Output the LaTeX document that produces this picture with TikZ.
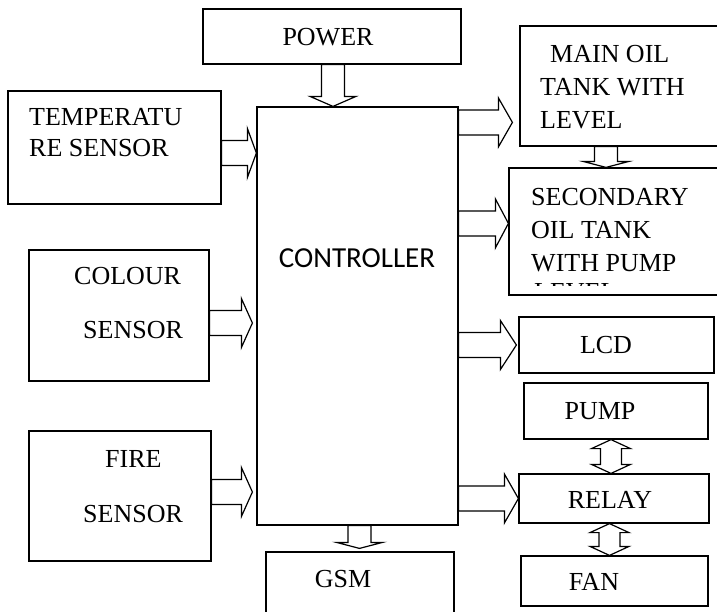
\documentclass[tikz,border=0pt]{standalone}
\usepackage{fontspec}
\setmainfont{Liberation Serif}
\newfontfamily\ctrlfont{Carlito}
\usetikzlibrary{calc}

\tikzset{
    box/.style={draw, line width=1.2pt, fill=white, inner sep=0pt},
    txt/.style={inner sep=0pt, align=left, font=\fontsize{26}{33}\selectfont},
    % jobbra mutato blokknyil
    rbarrow/.style={draw, fill=white, line width=1.2pt, line join=miter,
        to path={let \p1=(\tikztostart), \p2=(\tikztotarget) in
            (\x1,\y1+12.5pt) -- (\x2-#1,\y1+12.5pt) -- (\x2-#1,\y1+24.5pt) -- (\x2,\y1)
            -- (\x2-#1,\y1-24.5pt) -- (\x2-#1,\y1-12.5pt) -- (\x1,\y1-12.5pt) -- cycle}},
    rbarrow/.default=13pt,
    % lefele mutato blokknyil
    dbarrow/.style={draw, fill=white, line width=1.2pt, line join=miter,
        to path={let \p1=(\tikztostart), \p2=(\tikztotarget) in
            (\x1-11.5pt,\y1) -- (\x1-11.5pt,\y2+#1) -- (\x1-23pt,\y2+#1) -- (\x1,\y2)
            -- (\x1+23pt,\y2+#1) -- (\x1+11.5pt,\y2+#1) -- (\x1+11.5pt,\y1) -- cycle}},
    dbarrow/.default=10pt,
    % ketiranyu nyil
    dbiarrow/.style={draw, fill=white, line width=1.2pt, line join=miter,
        to path={let \p1=(\tikztostart), \p2=(\tikztotarget) in
            (\x1,\y1) -- (\x1+19.5pt,\y1-9pt) -- (\x1+10.5pt,\y1-9pt) -- (\x1+10.5pt,\y2+9pt)
            -- (\x1+19.5pt,\y2+9pt) -- (\x1,\y2) -- (\x1-19.5pt,\y2+9pt) -- (\x1-10.5pt,\y2+9pt)
            -- (\x1-10.5pt,\y1-9pt) -- (\x1-19.5pt,\y1-9pt) -- cycle}},
}

\begin{document}
\begin{tikzpicture}[x=1pt,y=-1pt]
    \path[use as bounding box, clip] (0,0) rectangle (717,611);

    % Dobozok
    \node[box, minimum width=258, minimum height=55]  (power) at (332,36.5) {};
    \node[box, minimum width=213, minimum height=113] (temp)  at (114.5,147.5) {};
    \node[box, minimum width=180, minimum height=131] (colour) at (119,315.5) {};
    \node[box, minimum width=182, minimum height=130] (fire)  at (120,496) {};
    \node[box, minimum width=201, minimum height=418] (ctrl)  at (357.5,316) {};
    \node[box, minimum width=188, minimum height=73]  (gsm)   at (360,588.5) {};
    \node[box, minimum width=210, minimum height=120] (main)  at (625,86) {};
    \node[box, minimum width=221, minimum height=127] (sec)   at (619.5,231.5) {};
    \node[box, minimum width=195, minimum height=56]  (lcd)   at (616.5,345) {};
    \node[box, minimum width=184, minimum height=56]  (pump)  at (616,411) {};
    \node[box, minimum width=190, minimum height=49]  (relay) at (614,498.5) {};
    \node[box, minimum width=187, minimum height=50]  (fan)   at (614.5,581) {};

    % Feliratok
    \node[txt, anchor=base] (powertxt) at (328,45) {POWER};
    \node[txt, anchor=north west, font=\fontsize{26}{31}\selectfont] (temptxt) at (29,108) {TEMPERATU\\RE SENSOR};
    \node[txt, anchor=north west, font=\fontsize{26}{54}\selectfont] (colourtxt) at (74,267) {COLOUR\\\hspace*{9pt}SENSOR};
    \node[txt, anchor=north west, font=\fontsize{26}{55}\selectfont] (firetxt) at (83,450) {\hspace*{22pt}FIRE\\SENSOR};
    \node[inner sep=0pt, anchor=base, font=\ctrlfont\fontsize{29}{35}\selectfont] (ctrltxt) at (357,267) {CONTROLLER};
    \node[txt, anchor=north west] (maintxt) at (540,45) {\hspace*{10pt}MAIN OIL\\TANK WITH\\LEVEL};
    \node[txt, anchor=north west] (sectxt) at (531,188) {SECONDARY\\OIL TANK\\WITH PUMP};
    \begin{scope}
        \clip (525,283.5) rectangle (620,285.5); % levagott sor
        \node[txt, anchor=north west] (secfrag) at (534,283.5) {LEVEL};
    \end{scope}
    \node[txt, anchor=base] (lcdtxt)   at (606,353) {LCD};
    \node[txt, anchor=base] (pumptxt)  at (600,419) {PUMP};
    \node[txt, anchor=base] (relaytxt) at (610,508) {RELAY};
    \node[txt, anchor=base] (fantxt)   at (594,590) {FAN};
    \node[txt, anchor=base] (gsmtxt)   at (343,587) {GSM};

    % Nyilak
    \draw[rbarrow=9pt]  ([yshift=-5.5pt]temp.east) to (ctrl.west);
    \draw[rbarrow=11pt] ([yshift=-7.5pt]colour.east) to ([xshift=-4pt]ctrl.west);
    \draw[rbarrow=11pt] ([yshift=4pt]fire.east) to ([xshift=-4pt]ctrl.west);
    \draw[dbarrow=10pt] ([xshift=1pt]power.south) to (ctrl.north);
    \draw[dbarrow=6pt]  ([xshift=2pt]ctrl.south) to ([yshift=3pt]gsm.north);
    \draw[rbarrow=14pt] ([yshift=-16pt]ctrl.north east) to ([xshift=-7pt]main.west);
    \draw[rbarrow=13pt] ([yshift=-117pt]ctrl.north east) to (sec.west);
    \draw[dbarrow=6pt]  ([xshift=-19pt]main.south) to (sec.north);
    \draw[rbarrow=16pt] (ctrl.east |- lcd.west) to ([xshift=-2pt]lcd.west);
    \draw[rbarrow=14pt] (ctrl.east |- relay.west) to (relay.west);
    \draw[dbiarrow] ([xshift=-5pt]pump.south) to (relay.north);
    \draw[dbiarrow] ([xshift=-4.5pt]relay.south) to (fan.north);
\end{tikzpicture}
\end{document}
